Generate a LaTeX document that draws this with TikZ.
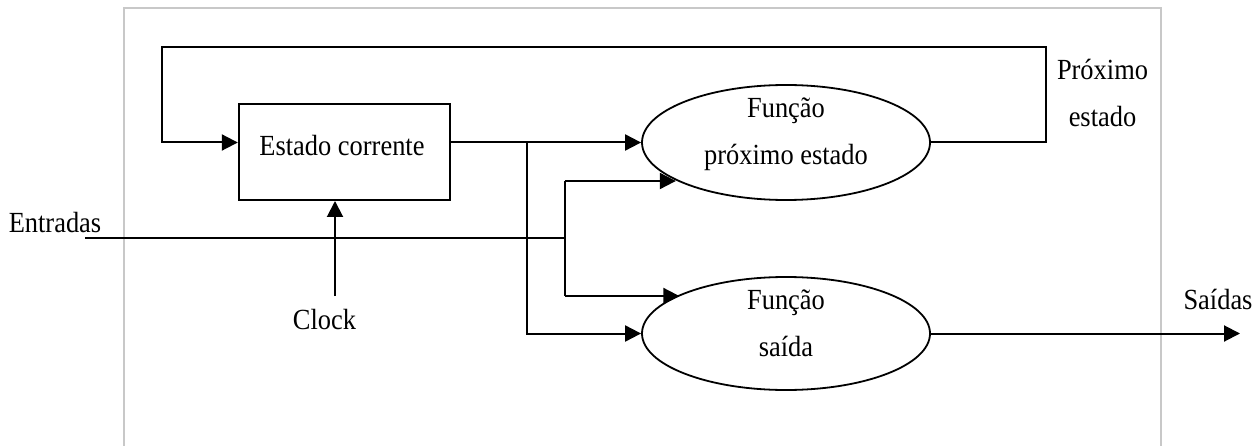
\documentclass[tikz,border=0pt]{standalone}
\usepackage{fontspec}
\setmainfont{Liberation Serif}[FakeStretch=0.905]
\usetikzlibrary{shapes.geometric,arrows.meta}
\definecolor{framegray}{RGB}{200,200,200}
\begin{document}
\begin{tikzpicture}[x=1pt,y=-1pt,
  line width=2pt,
  lbl/.style={font=\fontsize{29.2}{47.5}\selectfont, inner sep=0pt, anchor=base},
  arr/.style={-{Triangle[length=16pt,width=16pt]}},
  fn/.style={ellipse, draw, line width=1.8pt, minimum width=288pt, minimum height=115pt, inner sep=0pt},
  ]
\useasboundingbox (0,0) rectangle (1257,446);
\draw[framegray, line width=2pt] (124,450) -- (124,8) -- (1161,8) -- (1161,450);
% shapes
\node[draw, minimum width=211pt, minimum height=96pt] (cur) at (344.3,152) {};
\node[fn] (pe) at (786,142.5) {};
\node[fn, minimum height=113pt] (fs) at (786,333.5) {};
% texts
\node[lbl] (curT) at (342,156) {Estado corrente};
\node[lbl] (pe1) at (786,117.3) {Função};
\node[lbl] (pe2) at (786,165) {próximo estado};
\node[lbl] (fs1) at (786,309.3) {Função};
\node[lbl] (fs2) at (786,356.7) {saída};
\node[lbl] (ent) at (55,232.3) {Entradas};
\node[lbl] (clk) at (324.5,329.3) {Clock};
\node[lbl] (sai) at (1218,309.3) {Saídas};
\node[lbl] (prx1) at (1102.5,79.3) {Próximo};
\node[lbl] (prx2) at (1102.5,126.7) {estado};
% coordinates
\coordinate (fb1) at (1046,46.7);
\coordinate (fb2) at (162,142.5);
\coordinate (j1) at (526.6,142.5);
\coordinate (e0) at (85,238.3);
\coordinate (j2) at (565,238.3);
\coordinate (j2a) at (565,181);
\coordinate (j2b) at (565,296);
\coordinate (c0) at (335,296);
\coordinate (s1) at (1240,333.5);
% connectors
\draw[arr] (pe.east) -| (fb1) -| (fb2) -- (cur.west |- fb2);
\draw[arr] (cur.east |- pe.west) -- (pe.west);
\draw[arr] (j1) |- (fs.west);
\draw (e0) -- (j2);
\draw (j2a) -- (j2b);
\draw[arr] (j2a) -- (j2a -| pe.199.8);
\draw[arr] (j2b) -- (j2b -| fs.160.8);
\draw[arr] (c0) -- (c0 |- cur.south);
\draw[arr] (fs.east) -- (s1);
\end{tikzpicture}
\end{document}
